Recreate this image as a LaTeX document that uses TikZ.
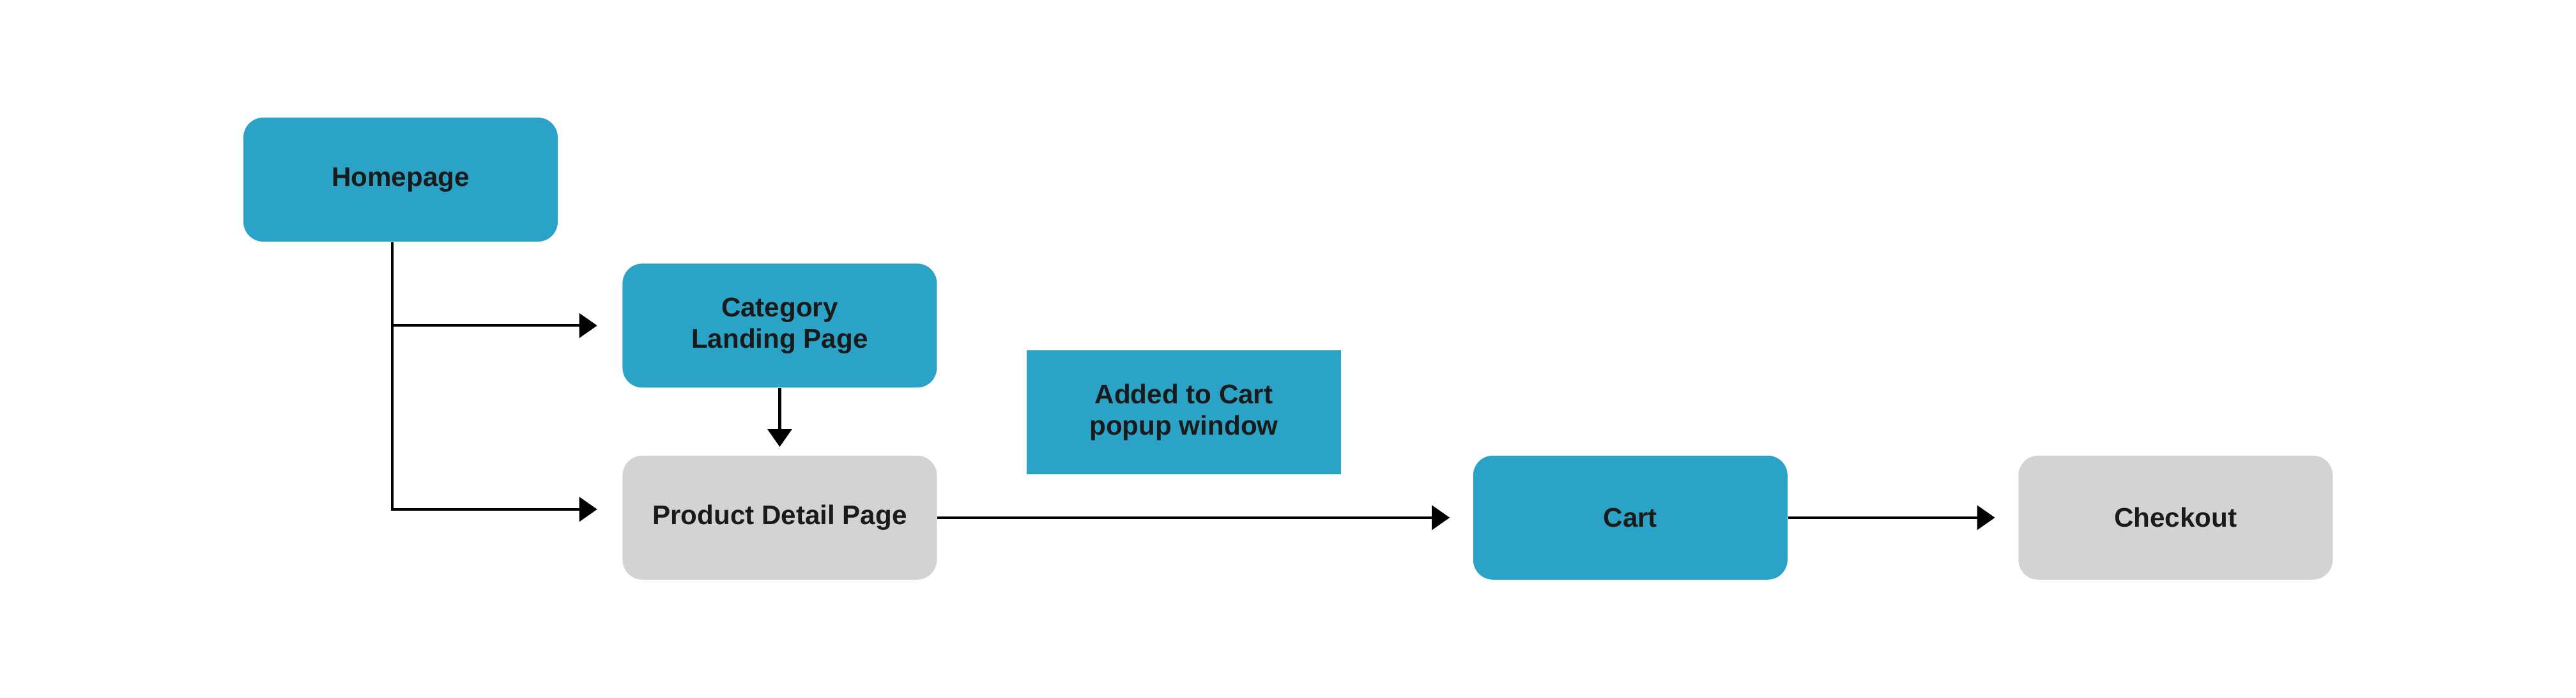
\documentclass[tikz,border=0pt]{standalone}
\usepackage{fontspec}
\setmainfont{Liberation Sans}
\usetikzlibrary{positioning}
\usetikzlibrary{arrows.meta}

\definecolor{pageblue}{HTML}{2AA3C6}
\definecolor{pagegray}{HTML}{D3D3D3}
\definecolor{pagetext}{HTML}{1A1A1A}

\tikzset{
  page/.style={rectangle, rounded corners=0.31cm, minimum width=4.92cm, minimum height=1.94cm,
    inner sep=0pt, align=center, text=pagetext, font=\fontsize{12}{14}\selectfont\bfseries},
  bluepage/.style={page, fill=pageblue},
  graypage/.style={page, fill=pagegray},
  flow/.style={line width=1.2pt, -{Triangle[length=0.28cm, width=0.38cm]}}
}

\begin{document}
\begin{tikzpicture}

\useasboundingbox (0,0) rectangle (40.32,10.92);

\node[bluepage] (home) at (6.27,8.11) {Homepage};
\node[bluepage, below right=0.33cm and 1.0cm of home] (cat) {Category\\Landing Page};
\node[graypage, below=1.05cm of cat] (pdp) {Product Detail Page};
\node[bluepage, rounded corners=0pt] (popup) at (18.53,4.47) {Added to Cart\\popup window};
\node[bluepage, right=8.38cm of pdp] (cart) {Cart};
\node[graypage, right=3.6cm of cart] (checkout) {Checkout};

\coordinate (trunk) at ([xshift=-0.13cm]home.south);
\coordinate (fork) at (trunk |- cat.west);
\coordinate (bend) at ([yshift=0.13cm]trunk |- pdp.west);

\draw[flow, shorten >=0.39cm] (trunk) -- (bend) -- (bend -| pdp.west);
\draw[flow, shorten >=0.39cm] (fork) -- (fork -| cat.west);
\draw[flow, shorten >=0.13cm] (cat) -- (pdp);
\draw[flow, shorten >=0.36cm] (pdp) -- (cart);
\draw[flow, shorten >=0.36cm] (cart) -- (checkout);

\end{tikzpicture}
\end{document}
